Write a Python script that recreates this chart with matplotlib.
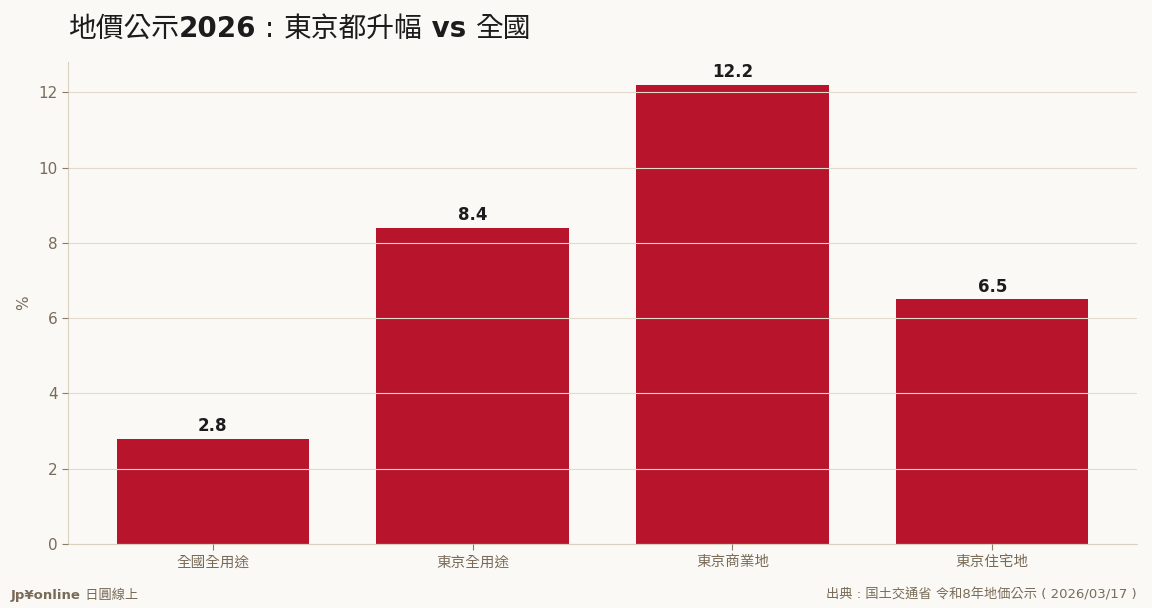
import matplotlib
matplotlib.use("Agg")
import matplotlib.pyplot as plt
from matplotlib.transforms import offset_copy

# 地價公示 2026 升幅 (%)
categories = ['全國全用途', '東京全用途', '東京商業地', '東京住宅地']
values = [2.8, 8.4, 12.2, 6.5]

plt.rcParams['font.family'] = ['DejaVu Sans', 'Noto Sans CJK TC']

bg = '#faf9f5'
bar_color = '#b8152d'
muted = '#7a6b58'
spine_c = '#d9d1c2'
grid_c = '#e2dacb'
dark = '#1c1c1c'

fig = plt.figure(figsize=(11.52, 6.08), dpi=100, facecolor=bg)
ax = fig.add_axes([68 / 1152, 1 - 544 / 608, (1137 - 68) / 1152, (544 - 62) / 608])
ax.set_facecolor(bg)

x = range(len(categories))
bars = ax.bar(x, values, width=0.74, color=bar_color, zorder=1)
ax.set_xticks(list(x))
ax.set_xticklabels(categories)
ax.set_ylim(0, max(values) * 1.05)
ax.set_yticks([0, 2, 4, 6, 8, 10, 12])

for b, v in zip(bars, values):
    ax.annotate(f'{v}', (b.get_x() + b.get_width() / 2, v), xytext=(0, 2.5),
                textcoords='offset points', ha='center', va='bottom',
                fontsize=12, fontweight='bold', color=dark)

ax.grid(axis='y', color=grid_c, linewidth=0.8, zorder=3)
ax.set_axisbelow(False)
for side in ['top', 'right']:
    ax.spines[side].set_visible(False)
for side in ['left', 'bottom']:
    ax.spines[side].set_color(spine_c)
ax.tick_params(axis='both', labelcolor=muted, color='#8a7c68', labelsize=11, length=4)
ax.tick_params(axis='x', labelsize=10.5)
ax.set_ylabel('%', color=muted, fontsize=11, labelpad=5)

# title in pieces: CJK regular, numbers bold
pieces = [('地價公示', 'normal'), ('2026', 'bold'), (' : ', 'normal'),
          ('東京都升幅', 'normal'), (' vs ', 'bold'), ('全國', 'normal')]
renderer = fig.canvas.get_renderer()
trans = fig.transFigure
x0 = 68 / 1152
y0 = 1 - 29 / 608
dx = 0
for s, w in pieces:
    t = fig.text(x0, y0, s, fontsize=20, fontweight=w, color=dark, va='center', ha='left',
                 transform=offset_copy(trans, fig=fig, x=dx, y=0, units='dots'))
    dx += t.get_window_extent(renderer).width

t1 = fig.text(11 / 1152, 1 - 595 / 608, 'Jp¥online', fontsize=9.5, fontweight='bold',
              color=muted, va='center', ha='left')
w1 = t1.get_window_extent(renderer).width
fig.text(11 / 1152, 1 - 595 / 608, ' 日圓線上', fontsize=9.5, color=muted, va='center', ha='left',
         transform=offset_copy(trans, fig=fig, x=w1, y=0, units='dots'))
fig.text(1137 / 1152, 1 - 595 / 608, '出典 : 国土交通省 令和8年地価公示 ( 2026/03/17 )',
         fontsize=9.5, color=muted, va='center', ha='right')

fig.savefig('out.png', dpi=100, facecolor=bg)
